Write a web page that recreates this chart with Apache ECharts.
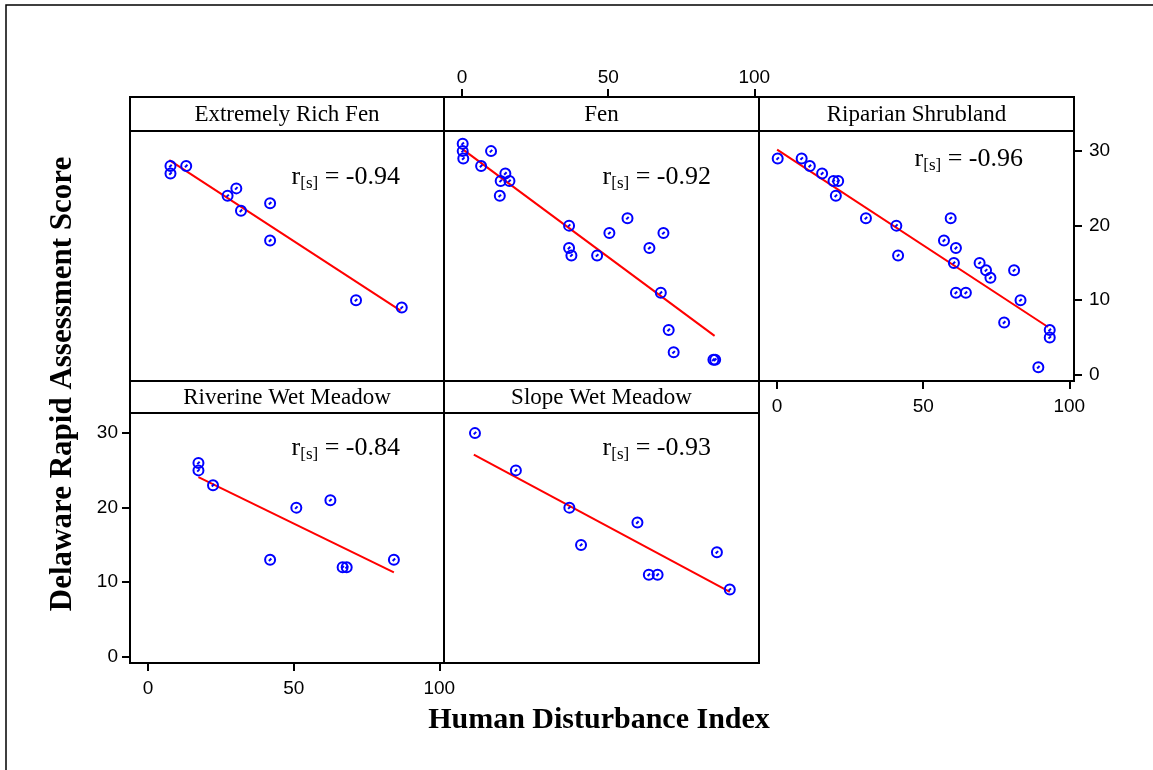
<!DOCTYPE html>
<html><head><meta charset="utf-8">
<script src="https://cdn.jsdelivr.net/npm/echarts@6/dist/echarts.min.js"></script>
<style>html,body{margin:0;padding:0;background:#fff}#c{width:1153px;height:770px}</style>
</head><body><div id="c"></div>
<script>
// ---------------- data ----------------
const panelTitles = ['Extremely Rich Fen', 'Fen', 'Riparian Shrubland', 'Riverine Wet Meadow', 'Slope Wet Meadow'];
const rValues = ['-0.94', '-0.92', '-0.96', '-0.84', '-0.93'];
const xTicks = [0, 50, 100];
const yTicks = [0, 10, 20, 30];
const xTitle = 'Human Disturbance Index';
const yTitle = 'Delaware Rapid Assessment Score';

const richFenPts = [[7.7, 28], [7.7, 27], [13.1, 28], [27.3, 24], [30.3, 25], [31.9, 22], [41.9, 23], [41.9, 18], [71.4, 10], [87.1, 9]];
const fenPts = [[0.2, 31], [0.2, 30], [0.4, 29], [9.9, 30], [6.5, 28], [14.8, 27], [13.2, 26], [16.2, 26], [12.9, 24],
  [36.6, 20], [36.6, 17], [37.4, 16], [46.2, 16], [50.4, 19], [56.6, 21], [64.1, 17], [68.9, 19], [68.0, 11],
  [70.7, 6], [72.4, 3], [86.0, 2], [86.6, 2]];
const riparianPts = [[0.2, 29], [8.4, 29], [11.2, 28], [15.4, 27], [19.3, 26], [20.9, 26], [20.1, 24], [30.4, 21],
  [40.8, 20], [41.4, 16], [59.4, 21], [57.1, 18], [61.2, 17], [60.5, 15], [61.2, 11], [64.6, 11], [69.3, 15],
  [71.5, 14], [73.0, 13], [81.1, 14], [83.3, 10], [77.7, 7], [93.3, 6], [93.3, 5], [89.4, 1]];
const riverinePts = [[17.3, 26], [17.3, 25], [22.3, 23], [41.9, 13], [50.9, 20], [62.6, 21], [66.8, 12], [68.2, 12], [84.4, 13]];
const slopePts = [[4.4, 30], [18.4, 25], [36.7, 20], [40.7, 15], [60.0, 18], [63.9, 11], [66.9, 11], [87.2, 14], [91.6, 9]];

const richFenFit = [[7.3, 28.8], [86.7, 8.6]];
const fenFit = [[0.0, 30.3], [86.4, 5.2]];
const riparianFit = [[0.0, 30.2], [92.7, 6.4]];
const riverineFit = [[17.3, 24.1], [84.4, 11.3]];
const slopeFit = [[4.0, 27.1], [91.6, 8.7]];

const panelPoints = [richFenPts, fenPts, riparianPts, riverinePts, slopePts];
const panelFits = [richFenFit, fenFit, riparianFit, riverineFit, slopeFit];

// ---------------- layout ----------------
const X_MIN = -6.2, X_MAX = 101.6, Y_MIN = -0.85, Y_MAX = 32.7;
const cols = [[130, 314], [444, 315], [759, 315]];
const rows = [{ hTop: 97, top: 131, h: 250 }, { hTop: 381, top: 413, h: 250 }];
const cells = [[0, 0], [1, 0], [2, 0], [0, 1], [1, 1]];
// r-label anchor: right edge x, vertical centre y
const rPos = [[400, 177], [711, 177], [1023, 159.5], [400, 448], [711, 448]];

const SERIF = "'Liberation Serif', 'Times New Roman', serif";
const SANS = "'Liberation Sans', Arial, sans-serif";
const marker = 'path://M5,0.5A4.5,4.5,0,1,1,4.99,0.5Z M3.9,6.1L6.1,3.9';

const grids = [], xAxes = [], yAxes = [], series = [], graphics = [];

cells.forEach(([c, r], i) => {
  const [left, width] = cols[c];
  const row = rows[r];
  grids.push({ left, top: row.top, width, height: row.h, show: true, borderColor: '#000', borderWidth: 2, backgroundColor: 'transparent' });

  const xShow = (i === 1 || i === 2 || i === 3);
  xAxes.push({
    type: 'value', gridIndex: i, min: X_MIN, max: X_MAX,
    position: i === 1 ? 'top' : 'bottom',
    offset: i === 1 ? (row.top - row.hTop) : 0,
    axisLine: { show: false, onZero: false }, splitLine: { show: false },
    axisTick: { show: xShow, length: 8, lineStyle: { color: '#000', width: 2 }, customValues: xTicks },
    axisLabel: { show: xShow, customValues: xTicks, fontSize: 19, fontFamily: SANS, color: '#000', margin: i === 1 ? 10 : 16 }
  });
  const yShow = (i === 2 || i === 3);
  yAxes.push({
    type: 'value', gridIndex: i, min: Y_MIN, max: Y_MAX,
    position: i === 2 ? 'right' : 'left',
    axisLine: { show: false, onZero: false }, splitLine: { show: false },
    axisTick: { show: yShow, length: 8, lineStyle: { color: '#000', width: 2 }, customValues: yTicks },
    axisLabel: { show: yShow, customValues: yTicks, fontSize: 19, fontFamily: SANS, color: '#000', margin: i === 2 ? 15 : 12 }
  });

  series.push({
    type: 'line', xAxisIndex: i, yAxisIndex: i, data: panelFits[i], showSymbol: false, symbol: 'none',
    lineStyle: { color: '#ff0000', width: 2 }, silent: true, z: 2
  });
  series.push({
    type: 'scatter', xAxisIndex: i, yAxisIndex: i, data: panelPoints[i], symbol: marker, symbolSize: 10,
    itemStyle: { color: 'rgba(0,0,0,0)', borderColor: '#0000ff', borderWidth: 2, opacity: 1 }, z: 3
  });

  // strip header
  graphics.push({ type: 'rect', shape: { x: left, y: row.hTop, width, height: row.top - row.hTop },
    style: { fill: 'none', stroke: '#000', lineWidth: 2 }, z: 10 });
  graphics.push({ type: 'text', x: left + width / 2, y: (row.hTop + row.top) / 2 + 1,
    style: { text: panelTitles[i], font: `23px ${SERIF}`, fill: '#000', align: 'center', verticalAlign: 'middle' }, z: 10 });
  // correlation label
  graphics.push({ type: 'text', x: rPos[i][0], y: rPos[i][1],
    style: {
      text: `{a|r}{b|[s]}{a| = ${rValues[i]}}`, align: 'right', verticalAlign: 'middle', fill: '#000',
      rich: {
        a: { fontFamily: SERIF, fontSize: 26, lineHeight: 30, verticalAlign: 'middle', fill: '#000' },
        b: { fontFamily: SERIF, fontSize: 17, lineHeight: 17, verticalAlign: 'bottom', fill: '#000' }
      }
    }, z: 10 });
});

// axis titles
graphics.push({ type: 'text', x: 599, y: 720,
  style: { text: xTitle, font: `bold 30px ${SERIF}`, fill: '#000', align: 'center', verticalAlign: 'middle' } });
graphics.push({ type: 'text', x: 63, y: 384, rotation: Math.PI / 2,
  style: { text: yTitle, font: `bold 31px ${SERIF}`, fill: '#000', align: 'center', verticalAlign: 'middle' } });
// outer frame
graphics.push({ type: 'rect', shape: { x: 6, y: 5, width: 1300, height: 900 },
  style: { fill: 'none', stroke: '#000', lineWidth: 1.5 }, z: 0 });

const chart = echarts.init(document.getElementById('c'), null, { renderer: 'canvas' });
chart.setOption({
  animation: false,
  backgroundColor: '#fff',
  grid: grids, xAxis: xAxes, yAxis: yAxes, series, graphic: graphics
});
</script>
</body></html>
